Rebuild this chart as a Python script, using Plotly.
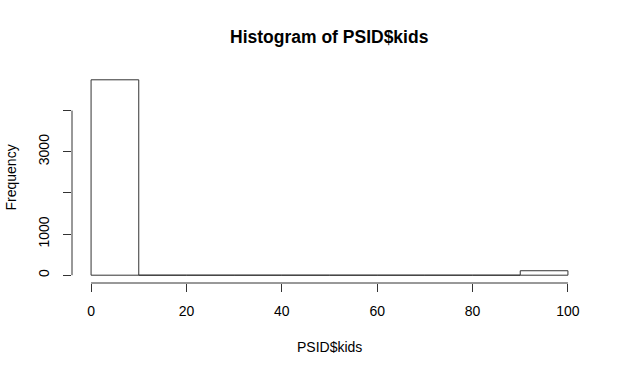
import plotly.graph_objects as go

bin_edges = [0, 10, 20, 30, 40, 50, 60, 70, 80, 90, 100]
counts = [4748, 0, 0, 0, 0, 0, 0, 0, 0, 108]
x_ticks = [0, 20, 40, 60, 80, 100]
y_ticks = [0, 1000, 2000, 3000, 4000]
y_tick_text = ["0", "1000", "", "3000", ""]

centers = [(bin_edges[i] + bin_edges[i + 1]) / 2 for i in range(len(counts))]
widths = [bin_edges[i + 1] - bin_edges[i] for i in range(len(counts))]

font = "Liberation Sans, Arial, sans-serif"
line_col = "#333333"

fig = go.Figure()
fig.add_trace(go.Bar(
    x=centers, y=counts, width=widths,
    marker=dict(color="white", line=dict(color=line_col, width=1)),
    hoverinfo="skip",
))

xmin, xmax = bin_edges[0], bin_edges[-1]
ymax = max(counts)
xpad = 0.04 * (xmax - xmin)
ypad = 0.04 * ymax

fig.update_layout(
    width=625, height=374,
    margin=dict(l=72, r=38, t=72, b=91),
    paper_bgcolor="white", plot_bgcolor="white",
    showlegend=False,
    font=dict(family=font, size=14, color="black"),
    xaxis=dict(
        range=[xmin - xpad, xmax + xpad],
        tickvals=x_ticks, ticktext=[str(v) for v in x_ticks],
        ticks="outside", ticklen=8, tickcolor=line_col, tickwidth=1,
        showgrid=False, zeroline=False, showline=False,
        ticklabelstandoff=7,
        tickfont=dict(family=font, size=14),
    ),
    yaxis=dict(
        range=[-ypad, ymax + ypad],
        tickvals=y_ticks, ticktext=y_tick_text,
        ticks="outside", ticklen=8, tickcolor=line_col, tickwidth=1,
        showgrid=False, zeroline=False, showline=False,
        tickangle=-90, ticklabelstandoff=8,
        tickfont=dict(family=font, size=14),
    ),
    shapes=[
        dict(type="line", xref="x", yref="paper", x0=x_ticks[0], x1=x_ticks[-1], y0=0, y1=0,
             line=dict(color=line_col, width=1)),
        dict(type="line", xref="paper", yref="y", x0=0, x1=0, y0=y_ticks[0], y1=y_ticks[-1],
             line=dict(color=line_col, width=1)),
    ],
    annotations=[
        dict(text="<b>Histogram of PSID$kids</b>", xref="paper", yref="paper", x=0.5, y=1,
             yshift=35, showarrow=False, font=dict(family=font, size=17.5), yanchor="middle"),
        dict(text="PSID$kids", xref="paper", yref="paper", x=0.5, y=0, yshift=-64,
             showarrow=False, font=dict(family=font, size=14), yanchor="middle"),
        dict(text="Frequency", xref="paper", yref="paper", x=0, y=0.5, xshift=-62,
             showarrow=False, textangle=-90, font=dict(family=font, size=14), xanchor="center"),
    ],
)

fig.write_html("out.html")
